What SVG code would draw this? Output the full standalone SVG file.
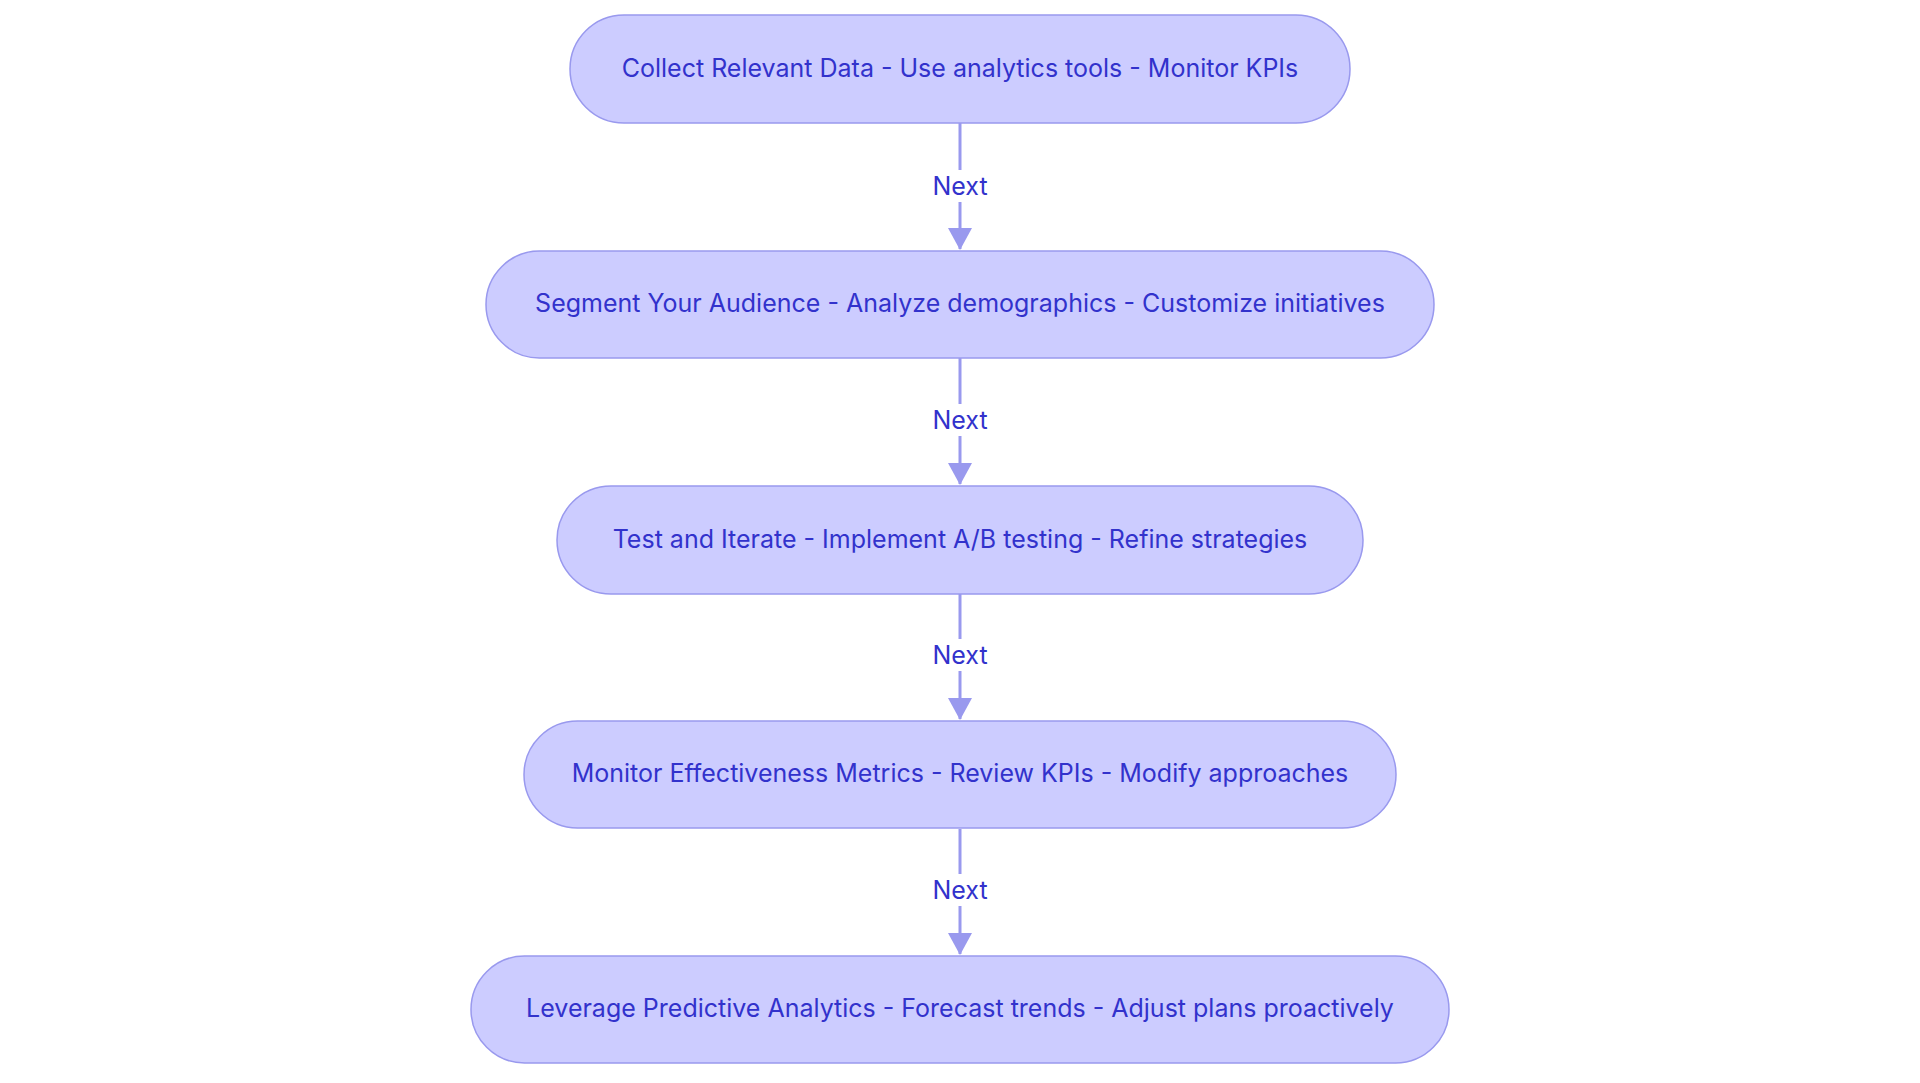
<svg xmlns="http://www.w3.org/2000/svg" width="1920" height="1083" viewBox="0 0 1920 1083">
<style>
.n{fill:#ccccff;stroke:#9999ee;stroke-width:1.5}
.t{font-family:Inter,"Open Sans","Liberation Sans",sans-serif;font-size:25px;fill:#3232cc;text-anchor:middle;dominant-baseline:central}
.e{stroke:#9999ee;stroke-width:3;fill:none}
.lb{fill:#ffffff}
</style>
<defs><marker id="a" markerWidth="10" markerHeight="10" refX="9" refY="5" orient="auto" markerUnits="userSpaceOnUse"><path d="M0,0 L10,5 L0,10 z" fill="#9999ee"/></marker></defs>
<rect width="1920" height="1083" fill="#ffffff"/>
<g id="connectors">
<line class="e" x1="960" y1="123" x2="960" y2="249" marker-end="url(#a)" style="marker-end:none"/>
<path d="M948,228 L960,250 L972,228 z" fill="#9999ee"/>
<rect class="lb" x="925" y="170" width="70" height="32"/><text class="t" x="960" y="186">Next</text>
<line class="e" x1="960" y1="358" x2="960" y2="484"/>
<path d="M948,463 L960,485 L972,463 z" fill="#9999ee"/>
<rect class="lb" x="925" y="404" width="70" height="32"/><text class="t" x="960" y="420">Next</text>
<line class="e" x1="960" y1="594" x2="960" y2="719"/>
<path d="M948,698 L960,720 L972,698 z" fill="#9999ee"/>
<rect class="lb" x="925" y="639" width="70" height="32"/><text class="t" x="960" y="655">Next</text>
<line class="e" x1="960" y1="829" x2="960" y2="954"/>
<path d="M948,933 L960,955 L972,933 z" fill="#9999ee"/>
<rect class="lb" x="925" y="874" width="70" height="32"/><text class="t" x="960" y="890">Next</text>
</g>
<g id="n1"><rect class="n" x="570" y="15" width="780" height="108" rx="54"/><text class="t" x="960" y="68">Collect Relevant Data - Use analytics tools - Monitor KPIs</text></g>
<g id="n2"><rect class="n" x="486" y="251" width="948" height="107" rx="53.5"/><text class="t" x="960" y="303">Segment Your Audience - Analyze demographics - Customize initiatives</text></g>
<g id="n3"><rect class="n" x="557" y="486" width="806" height="108" rx="54"/><text class="t" x="960" y="539">Test and Iterate - Implement A/B testing - Refine strategies</text></g>
<g id="n4"><rect class="n" x="524" y="721" width="872" height="107" rx="53.5"/><text class="t" x="960" y="773">Monitor Effectiveness Metrics - Review KPIs - Modify approaches</text></g>
<g id="n5"><rect class="n" x="471" y="956" width="978" height="107" rx="53.5"/><text class="t" x="960" y="1008">Leverage Predictive Analytics - Forecast trends - Adjust plans proactively</text></g>
</svg>
